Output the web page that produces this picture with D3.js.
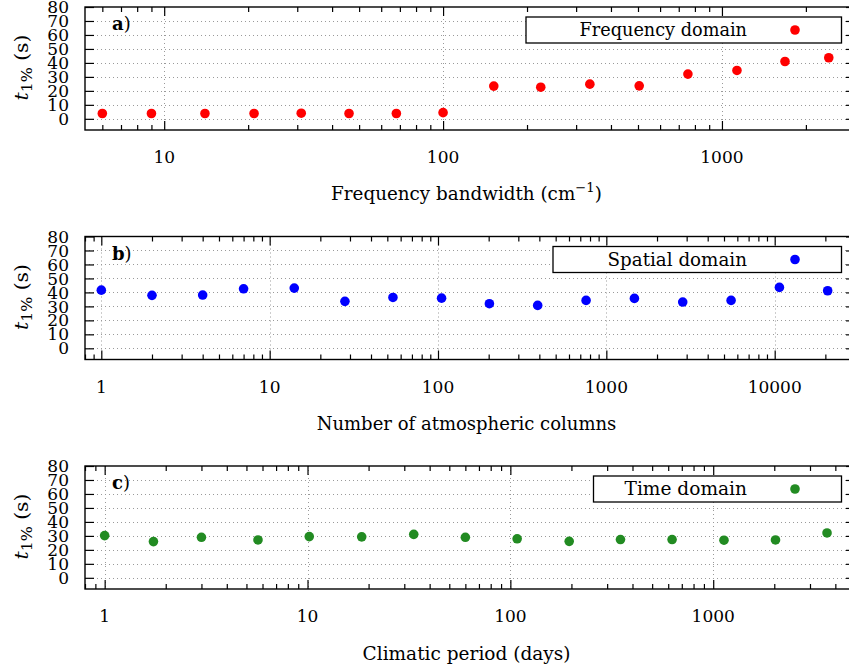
<!DOCTYPE html>
<html><head><meta charset="utf-8">
<script src="https://cdn.jsdelivr.net/npm/d3@7"></script>
<style>
body{margin:0;background:#fff;}
</style>
</head><body>
<svg id="chart" width="849" height="670"></svg>
<script>
// ---- data ----
const yTickValues = [0, 10, 20, 30, 40, 50, 60, 70, 80];

const freqBandwidth = [6, 9, 14, 21, 31, 46, 68, 100, 152, 224, 336, 505, 755, 1132, 1683, 2416];
const freqT1 = [3.8, 3.8, 3.8, 3.8, 4.0, 3.8, 3.8, 4.4, 23.4, 22.6, 24.8, 23.6, 32.0, 34.6, 41.0, 43.7];
const freqTicks = [10, 100, 1000];

const spatialColumns = [1, 2, 4, 7, 14, 28, 54, 105, 202, 391, 758, 1468, 2843, 5508, 10670, 20640];
const spatialT1 = [41.6, 37.9, 38.1, 42.6, 43.1, 33.6, 36.4, 35.9, 31.9, 30.7, 34.3, 35.7, 33.1, 34.3, 43.6, 41.2];
const spatialTicks = [1, 10, 100, 1000, 10000];

const timePeriod = [1, 1.74, 3, 5.7, 10.2, 18.5, 33.4, 60, 108, 195, 349, 627, 1130, 2028, 3640];
const timeT1 = [30.2, 25.9, 29.0, 27.1, 29.5, 29.3, 31.1, 29.0, 27.9, 26.1, 27.4, 27.4, 26.9, 27.1, 32.1];
const timeTicks = [1, 10, 100, 1000];

const panelLabels = ["a", "b", "c"];
const legendLabels = ["Frequency domain", "Spatial domain", "Time domain"];
const xTitles = [
  [["Frequency bandwidth (cm", 0], ["\u22121", 1], [")", 0]],
  [["Number of atmospheric columns", 0]],
  [["Climatic period (days)", 0]]
];
const colors = ["#ff0000", "#0000ff", "#228b22"];

// ---- layout ----
const W = 849, H = 670;
const left = 85, right = 855;
const panelTops = [7, 236.5, 466];
const panelH = 123;
const xDomains = [[5.2, 3000], [0.8, 30000], [0.8, 5000]];
const yDomain = [-8, 80];
const FONT = "'DejaVu Serif', serif";

// target widths (px) of the long labels, used to fit the font's glyph widths
const legendWidths = [168, 140, 123];
const titleWidths = [271, 300, 208];
const titleOffsets = [62, 62, 63];

const panels = [
  {xs: freqBandwidth, ys: freqT1, ticks: freqTicks},
  {xs: spatialColumns, ys: spatialT1, ticks: spatialTicks},
  {xs: timePeriod, ys: timeT1, ticks: timeTicks}
].map((p, i) => Object.assign(p, {
  label: panelLabels[i], legend: legendLabels[i], title: xTitles[i],
  color: colors[i], domain: xDomains[i], top: panelTops[i],
  legendW: legendWidths[i], titleW: titleWidths[i], titleOff: titleOffsets[i]
}));

const svg = d3.select("#chart").style("font-family", FONT);
svg.append("rect").attr("width", W).attr("height", H).attr("fill", "#fff");

function minorTicks(domain) {
  const out = [];
  const k0 = Math.floor(Math.log10(domain[0])), k1 = Math.ceil(Math.log10(domain[1]));
  for (let k = k0; k <= k1; k++) {
    for (let m = 2; m <= 9; m++) {
      const v = m * Math.pow(10, k);
      if (v >= domain[0] && v <= domain[1]) out.push(v);
    }
  }
  return out;
}

function fitX(textSel, target) {
  const w = textSel.node().getBBox().width;
  return w > 0 ? target / w : 1;
}

panels.forEach(p => {
  const top = p.top, bottom = top + panelH;
  const x = d3.scaleLog().domain(p.domain).range([left, right]);
  const y = d3.scaleLinear().domain(yDomain).range([bottom, top]);
  const g = svg.append("g");

  // grid
  const grid = g.append("g").attr("stroke", "#9a9a9a").attr("stroke-width", 1)
    .attr("stroke-dasharray", "1,3");
  grid.selectAll("line.h").data(yTickValues.filter(v => v < 80)).join("line")
    .attr("x1", left).attr("x2", right)
    .attr("y1", d => Math.round(y(d)) + 0.5).attr("y2", d => Math.round(y(d)) + 0.5);
  grid.selectAll("line.v").data(p.ticks).join("line")
    .attr("x1", d => Math.round(x(d)) + 0.5).attr("x2", d => Math.round(x(d)) + 0.5)
    .attr("y1", top).attr("y2", bottom);

  // axes (inward ticks on all four sides)
  const axB = d3.axisBottom(x).tickValues(p.ticks).tickSize(-9).tickFormat("");
  const axT = d3.axisTop(x).tickValues(p.ticks).tickSize(-9).tickFormat("");
  const axBm = d3.axisBottom(x).tickValues(minorTicks(p.domain)).tickSize(-5).tickFormat("");
  const axTm = d3.axisTop(x).tickValues(minorTicks(p.domain)).tickSize(-5).tickFormat("");
  const axL = d3.axisLeft(y).tickValues(yTickValues).tickSize(-9).tickFormat("");
  const axR = d3.axisRight(y).tickValues(yTickValues).tickSize(-9).tickFormat("");
  [[axB, `translate(0,${bottom})`], [axBm, `translate(0,${bottom})`],
   [axT, `translate(0,${top})`], [axTm, `translate(0,${top})`],
   [axL, `translate(${left},0)`], [axR, `translate(${right},0)`]].forEach(([ax, tr]) => {
    const a = g.append("g").attr("transform", tr).call(ax);
    a.select(".domain").remove();
    a.selectAll("line").attr("stroke", "#000").attr("stroke-width", 1.2);
  });

  // y tick labels
  g.append("g").selectAll("text").data(yTickValues).join("text")
    .attr("x", 69).attr("y", d => y(d)).attr("dy", "0.36em")
    .attr("text-anchor", "end").attr("font-size", 17).text(d => d);

  // x tick labels
  g.append("g").selectAll("text").data(p.ticks).join("text")
    .attr("x", d => x(d)).attr("y", bottom + 27).attr("dy", "0.36em")
    .attr("text-anchor", "middle").attr("font-size", 17).text(d => d);

  // points
  g.append("g").selectAll("circle").data(p.xs.map((v, i) => [v, p.ys[i]])).join("circle")
    .attr("cx", d => x(d[0])).attr("cy", d => y(d[1])).attr("r", 4.8).attr("fill", p.color);

  // frame
  g.append("rect").attr("x", left).attr("y", top).attr("width", right - left).attr("height", panelH)
    .attr("fill", "none").attr("stroke", "#000").attr("stroke-width", 1.4);

  // panel label
  const pl = g.append("text").attr("x", 112).attr("y", top + 23).attr("font-size", 18);
  pl.append("tspan").attr("font-weight", "bold").text(p.label);
  pl.append("tspan").text(")");

  // legend
  const textRight = 747;
  const boxLeft = textRight - 13.5 * p.legend.length - 5;
  g.append("rect").attr("x", boxLeft).attr("y", top + 10).attr("width", 841.5 - boxLeft).attr("height", 26)
    .attr("fill", "#fff").attr("stroke", "#000").attr("stroke-width", 1.3);
  const lg = g.append("g");
  const lt = lg.append("text").attr("text-anchor", "end").attr("font-size", 18).text(p.legend);
  lg.attr("transform", `translate(${textRight},${top + 29}) scale(${fitX(lt, p.legendW)},1)`);
  g.append("circle").attr("cx", 795).attr("cy", top + 23).attr("r", 4.8).attr("fill", p.color);

  // x title
  const tg = g.append("g");
  const tt = tg.append("text").attr("text-anchor", "middle").attr("font-size", 18);
  p.title.forEach(([s, sup]) => {
    if (sup) tt.append("tspan").attr("font-size", 13).attr("dy", -8).text(s);
    else tt.append("tspan").attr("dy", tt.selectAll("tspan").size() ? 8 : 0).text(s);
  });
  tg.attr("transform", `translate(${(left + 848) / 2},${bottom + p.titleOff}) scale(${fitX(tt, p.titleW)},1)`);

  // y title
  const yg = g.append("g");
  const yt = yg.append("text").attr("text-anchor", "middle").attr("font-size", 18);
  yt.append("tspan").attr("font-style", "italic").text("t");
  yt.append("tspan").attr("font-size", 14).attr("dy", 4).text("1%");
  yt.append("tspan").attr("dy", -4).text("\u00a0(s)");
  yg.attr("transform", `translate(28,${top + panelH / 2 - 1}) rotate(-90) scale(${fitX(yt, 66)},1)`);
});
</script>
</body></html>
